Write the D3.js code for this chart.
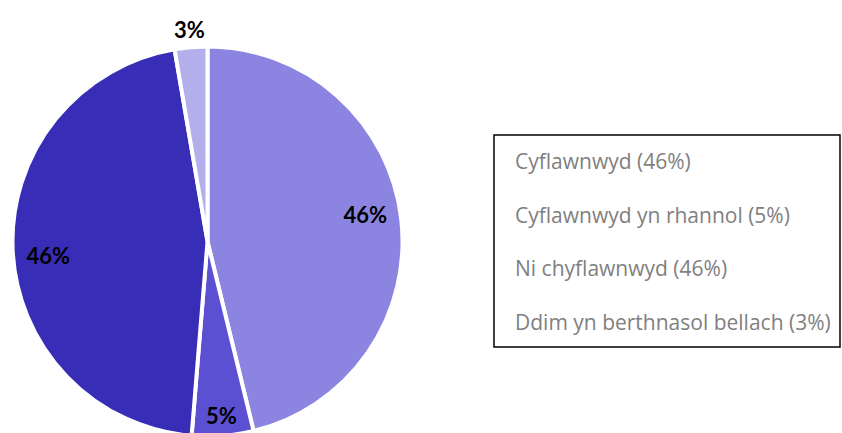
<!DOCTYPE html>
<html>
<head>
<meta charset="utf-8">
<script src="https://cdn.jsdelivr.net/npm/d3@7"></script>
<style>
  html, body { margin: 0; padding: 0; background: #fff; }
  svg { display: block; }
</style>
</head>
<body>
<svg id="chart"></svg>
<script>
// values
const categories = [
  "Cyflawnwyd",
  "Cyflawnwyd yn rhannol",
  "Ni chyflawnwyd",
  "Ddim yn berthnasol bellach"
];
const shares = [46.2, 5.1, 46.0, 2.7];
const shareLabels = ["46%", "5%", "46%", "3%"];
const sliceColors = ["#8b85e1", "#5b50d2", "#372db7", "#b3afeb"];

const width = 842;
const height = 433;

const svg = d3.select("#chart")
  .attr("width", width)
  .attr("height", height);

const cx = 207.5;
const cy = 241.5;
const radius = 195;

const pie = d3.pie()
  .sort(null)
  .value((d) => d.value);

const slices = pie(categories.map((c, i) => ({ name: c, value: shares[i], label: shareLabels[i], color: sliceColors[i] })));

const arc = d3.arc()
  .innerRadius(0)
  .outerRadius(radius);

const g = svg.append("g")
  .attr("transform", `translate(${cx},${cy})`);

g.selectAll("path.slice")
  .data(slices)
  .enter()
  .append("path")
  .attr("class", "slice")
  .attr("d", arc)
  .attr("fill", (d) => d.data.color)
  .attr("stroke", "#fff")
  .attr("stroke-width", 4)
  .attr("stroke-linejoin", "round");

// labels: big slices inside, thin ones near the rim, tiny ones outside
const labelRadius = (d) => {
  if (d.data.value < 4) return radius * 1.09;
  if (d.data.value < 10) return radius * 0.9;
  return radius * 0.82;
};
// big labels sit a little before the middle of their slice
const labelShift = (d) => (d.data.value < 10 ? 0 : -0.045);

g.selectAll("text.pct")
  .data(slices)
  .enter()
  .append("text")
  .attr("class", "pct")
  .attr("transform", (d) => {
    const r = labelRadius(d);
    const a = (d.startAngle + d.endAngle) / 2 + labelShift(d);
    return `translate(${Math.sin(a) * r},${-Math.cos(a) * r})`;
  })
  .attr("text-anchor", "middle")
  .attr("dy", "0.36em")
  .style("font-family", "Lato, 'Open Sans', sans-serif")
  .style("font-weight", "bold")
  .style("font-size", "22px")
  .style("fill", "#000")
  .text((d) => d.data.label);

// legend, text only inside a black box
const legendX = 494;
const legendY = 135;
const legendWidth = 346;
const legendHeight = 212;
const legendItemHeight = 53.5;

const legend = svg.append("g")
  .attr("transform", `translate(${legendX},${legendY})`);

legend.append("rect")
  .attr("x", 0)
  .attr("y", 0)
  .attr("width", legendWidth)
  .attr("height", legendHeight)
  .style("fill", "#fff")
  .style("stroke", "#000")
  .style("stroke-width", 1.5);

legend.selectAll("text.item")
  .data(categories)
  .enter()
  .append("text")
  .attr("class", "item")
  .attr("x", 21)
  .attr("y", (d, i) => 34 + i * legendItemHeight)
  .style("font-family", "'Open Sans', Lato, sans-serif")
  .style("font-size", "21px")
  .style("fill", "#7f7f7f")
  .text((d, i) => `${d} (${shareLabels[i]})`);
</script>
</body>
</html>
